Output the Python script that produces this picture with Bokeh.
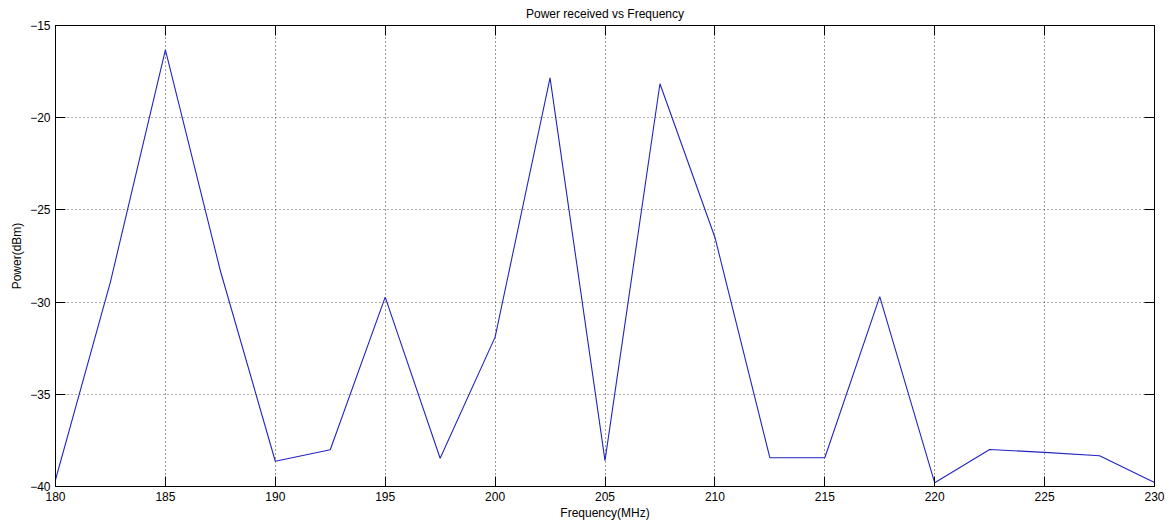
from bokeh.plotting import figure
from bokeh.models import Range1d, FixedTicker, LinearAxis, Title
from bokeh.embed import file_html
from bokeh.resources import INLINE

freq_mhz = [180, 182.5, 185, 187.5, 190, 192.5, 195, 197.5, 200, 202.5, 205,
            207.5, 210, 212.5, 215, 217.5, 220, 222.5, 225, 227.5, 230]
power_dbm = [-39.64, -28.9, -16.32, -28.3, -38.63, -38.01, -29.73, -38.47, -31.9,
             -17.84, -38.6, -18.16, -26.48, -38.44, -38.44, -29.70, -39.8, -37.99,
             -38.15, -38.33, -39.78]
x_ticks = [180, 185, 190, 195, 200, 205, 210, 215, 220, 225, 230]
y_ticks = [-40, -35, -30, -25, -20, -15]

FONT = "Liberation Sans"
FS = "12px"

p = figure(width=1171, height=522, output_backend="svg", toolbar_location=None,
           x_range=Range1d(180, 230), y_range=Range1d(-40, -15),
           min_border_left=55, min_border_right=17, min_border_top=25,
           min_border_bottom=36, background_fill_color="white",
           border_fill_color="white", outline_line_color="black",
           outline_line_width=1)

p.title = Title(text="Power received vs Frequency", align="center",
                vertical_align="middle",
                text_font=FONT, text_font_size=FS, text_font_style="normal",
                text_color="black", standoff=8)

p.line(freq_mhz, power_dbm, line_color="#2323c0", line_width=1.1)

for ax in (p.xaxis[0], p.yaxis[0]):
    ax.major_label_text_font = FONT
    ax.major_label_text_font_size = FS
    ax.major_label_text_color = "black"
    ax.axis_label_text_font = FONT
    ax.axis_label_text_font_size = FS
    ax.axis_label_text_font_style = "normal"
    ax.axis_label_text_color = "black"
    ax.major_tick_in = 10
    ax.major_tick_out = 0
    ax.minor_tick_in = 0
    ax.minor_tick_out = 0
    ax.axis_line_color = "black"
    ax.major_tick_line_color = "black"

p.xaxis[0].ticker = FixedTicker(ticks=x_ticks)
p.yaxis[0].ticker = FixedTicker(ticks=y_ticks)
p.xaxis[0].axis_label = "Frequency(MHz)"
p.yaxis[0].axis_label = "Power(dBm)"
p.xaxis[0].major_label_standoff = 5
p.xaxis[0].axis_label_standoff = 2
p.yaxis[0].major_label_standoff = 5
p.yaxis[0].axis_label_standoff = 3


def mirror_axis(ticks):
    return LinearAxis(ticker=FixedTicker(ticks=ticks),
                      major_label_overrides={t: "" for t in ticks},
                      major_label_text_font_size="0px",
                      major_label_standoff=0, major_tick_in=10, major_tick_out=0,
                      minor_tick_in=0, minor_tick_out=0, axis_line_color="black",
                      major_tick_line_color="black")


p.add_layout(mirror_axis(x_ticks), "above")
p.add_layout(mirror_axis(y_ticks), "right")

p.xgrid.ticker = FixedTicker(ticks=x_ticks)
p.ygrid.ticker = FixedTicker(ticks=y_ticks)
p.xgrid.grid_line_color = "#333333"
p.ygrid.grid_line_color = "#555555"
for g in (p.xgrid, p.ygrid):
    g.grid_line_dash = "1 3"
    g.grid_line_width = 1

open("out.html", "w").write(file_html(p, INLINE))
